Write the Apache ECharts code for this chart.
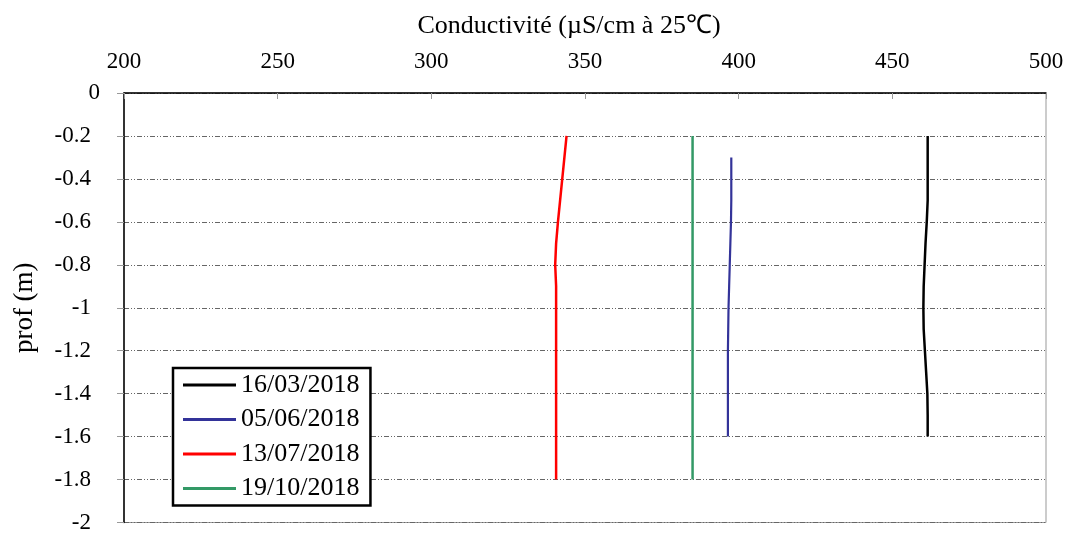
<!DOCTYPE html>
<html>
<head>
<meta charset="utf-8">
<script src="https://cdn.jsdelivr.net/npm/echarts@6/dist/echarts.min.js"></script>
<style>html,body{margin:0;padding:0;background:#fff}#c{width:1067px;height:534px}</style>
</head>
<body>
<div id="c"></div>
<script>
const seriesNames = ['16/03/2018', '05/06/2018', '13/07/2018', '19/10/2018'];
const depths_0316 = [-0.2, -0.3, -0.4, -0.5, -0.6, -0.7, -0.8, -0.9, -1.0, -1.1, -1.2, -1.3, -1.4, -1.5, -1.6];
const cond_0316   = [461.5, 461.5, 461.5, 461.5, 461.2, 460.8, 460.5, 460.2, 460.1, 460.2, 460.6, 461.0, 461.4, 461.5, 461.5];
const depths_0506 = [-0.3, -0.4, -0.5, -0.6, -0.7, -0.8, -0.9, -1.0, -1.1, -1.2, -1.3, -1.4, -1.5, -1.6];
const cond_0506   = [397.6, 397.6, 397.6, 397.5, 397.3, 397.1, 396.9, 396.7, 396.6, 396.5, 396.5, 396.5, 396.5, 396.5];
const depths_0713 = [-0.2, -0.3, -0.4, -0.5, -0.6, -0.7, -0.8, -0.9, -1.0, -1.1, -1.2, -1.3, -1.4, -1.5, -1.6, -1.7, -1.8];
const cond_0713   = [344.0, 343.3, 342.6, 341.9, 341.2, 340.6, 340.3, 340.6, 340.6, 340.6, 340.6, 340.6, 340.6, 340.6, 340.6, 340.6, 340.6];
const depths_1019 = [-0.2, -0.3, -0.4, -0.5, -0.6, -0.7, -0.8, -0.9, -1.0, -1.1, -1.2, -1.3, -1.4, -1.5, -1.6, -1.7, -1.8];
const cond_1019   = [385, 385, 385, 385, 385, 385, 385, 385, 385, 385, 385, 385, 385, 385, 385, 385, 385];
const xTitle = 'Conductivité (µS/cm à 25℃)';
const yTitle = 'prof (m)';

const colors = ['#000000', '#333399', '#ff0000', '#339966'];
const widths = [2.5, 2.2, 2.5, 2.5];
const dataSets = [[cond_0316, depths_0316], [cond_0506, depths_0506], [cond_0713, depths_0713], [cond_1019, depths_1019]];

const FONT = '"Liberation Serif", "Times New Roman", serif';
const chart = echarts.init(document.getElementById('c'));
chart.setOption({
  animation: false,
  backgroundColor: '#fff',
  textStyle: { fontFamily: FONT },
  grid: { left: 124, right: 21, top: 93, bottom: 8, show: true, borderColor: '#999', borderWidth: 1 },
  title: { text: xTitle, left: 564, top: 8, textAlign: 'center',
    textStyle: { fontFamily: FONT, fontSize: 26, fontWeight: 'normal', color: '#000' } },
  legend: {
    orient: 'vertical', left: 173, top: 368,
    data: seriesNames.map(n => ({ name: n, icon: 'rect' })),
    borderColor: '#000', borderWidth: 2.5, backgroundColor: '#fff',
    padding: [4, 11, 4, 10],
    itemWidth: 53, itemHeight: 3, itemGap: 8.5,
    textStyle: { fontFamily: FONT, fontSize: 26, lineHeight: 26, color: '#000' }
  },
  xAxis: {
    type: 'value', position: 'top', min: 200, max: 500, interval: 50,
    axisLine: { show: true, lineStyle: { color: '#000', width: 1.5 } },
    axisTick: { show: true, inside: true, length: 6, lineStyle: { color: '#999' } },
    axisLabel: { fontFamily: FONT, fontSize: 23, color: '#000', margin: 20 },
    splitLine: { show: false }
  },
  yAxis: {
    type: 'value', min: -2, max: 0, interval: 0.2,
    name: yTitle, nameLocation: 'middle', nameGap: 86, nameRotate: 90,
    nameTextStyle: { fontFamily: FONT, fontSize: 27, color: '#000' },
    axisLine: { show: true, onZero: false, lineStyle: { color: '#000', width: 1.5 } },
    axisTick: { show: true, inside: false, length: 7, lineStyle: { color: '#999' } },
    axisLabel: { fontFamily: FONT, fontSize: 23, color: '#000', margin: 24,
      formatter: v => {
        const s = String(Math.round(v * 10) / 10);
        return s === '0' ? '{z|0}' : '{n|' + s + '}';
      },
      rich: {
        z: { fontFamily: FONT, fontSize: 23, color: '#000' },
        n: { fontFamily: FONT, fontSize: 23, color: '#000', padding: [0, 9, 0, 0] }
      }
    },
    splitLine: { show: true, lineStyle: { color: '#666', width: 1, type: [5, 2, 1, 2, 1, 2] } }
  },
  series: seriesNames.map((n, i) => ({
    name: n, type: 'line', symbol: 'none', showSymbol: false,
    data: dataSets[i][0].map((x, k) => [x, dataSets[i][1][k]]),
    lineStyle: { color: colors[i], width: widths[i] },
    itemStyle: { color: colors[i] }
  }))
});
</script>
</body>
</html>
